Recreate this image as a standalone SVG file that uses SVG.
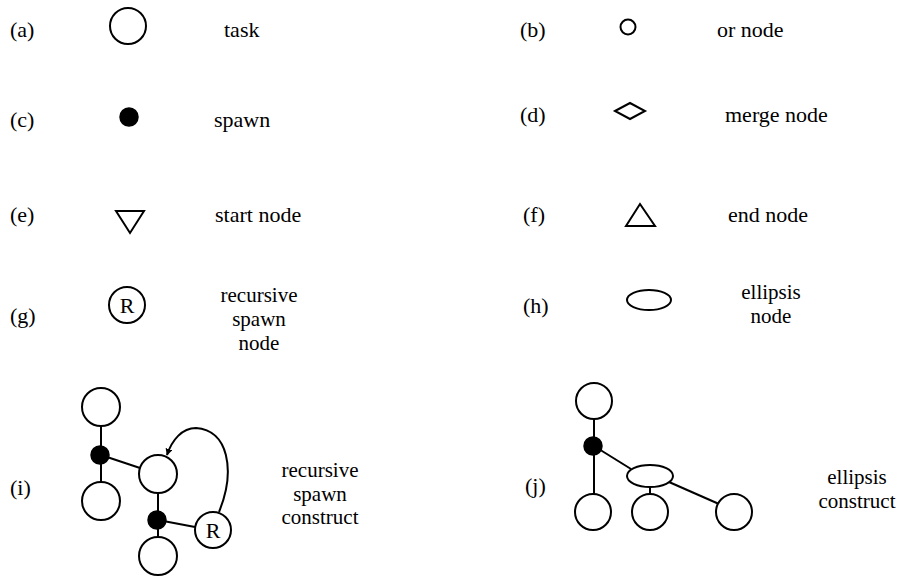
<svg xmlns="http://www.w3.org/2000/svg" width="906" height="577" viewBox="0 0 906 577">
<defs>
<style>
text{font-family:"Liberation Serif","Times New Roman",serif;font-size:22px;fill:#000}
.c{text-anchor:middle}
.m{font-size:21px}
.n{fill:#fff;stroke:#000;stroke-width:2}
.s{fill:#000;stroke:#000;stroke-width:1.5}
.e{fill:none;stroke:#000;stroke-width:2}
</style>
<marker id="ah" viewBox="0 0 10 10" refX="9" refY="5" markerWidth="7" markerHeight="7" orient="auto" markerUnits="userSpaceOnUse">
<path d="M0,0 L10,5 L0,10 z" fill="#000"/>
</marker>
</defs>
<rect width="906" height="577" fill="#fff"/>

<g id="legend-a">
<text x="10" y="37">(a)</text>
<circle class="n" cx="128" cy="26" r="18"/>
<text x="224" y="37">task</text>
</g>
<g id="legend-b">
<text x="520" y="37">(b)</text>
<circle class="n" cx="628" cy="27" r="7.5"/>
<text x="717" y="37">or node</text>
</g>
<g id="legend-c">
<text x="10" y="127">(c)</text>
<circle class="s" cx="129" cy="117" r="9"/>
<text x="214" y="127">spawn</text>
</g>
<g id="legend-d">
<text x="520" y="122">(d)</text>
<polygon class="n" points="615,111 630,103 645,111 630,119"/>
<text x="725" y="122">merge node</text>
</g>
<g id="legend-e">
<text x="10" y="222">(e)</text>
<polygon class="n" points="116,211 144,211 130,233"/>
<text x="215" y="222">start node</text>
</g>
<g id="legend-f">
<text x="523" y="222">(f)</text>
<polygon class="n" points="626,226 655,226 640,204"/>
<text x="728" y="222">end node</text>
</g>
<g id="legend-g">
<text x="10" y="323">(g)</text>
<circle class="n" cx="127" cy="305" r="18"/>
<text class="c" x="127" y="313">R</text>
<text class="c m" x="259" y="302">recursive</text>
<text class="c m" x="259" y="326">spawn</text>
<text class="c m" x="259" y="350">node</text>
</g>
<g id="legend-h">
<text x="523" y="313">(h)</text>
<ellipse class="n" cx="649" cy="300" rx="22" ry="10"/>
<text class="c m" x="771" y="299">ellipsis</text>
<text class="c m" x="771" y="322.5">node</text>
</g>

<g id="connectors">
<line class="e" x1="101" y1="426" x2="101" y2="482"/>
<line class="e" x1="101" y1="455" x2="140" y2="468"/>
<line class="e" x1="158" y1="493" x2="158" y2="538"/>
<line class="e" x1="158" y1="520" x2="195" y2="527"/>
<path class="e" d="M219,512 C236,470 228,430 196,428 C182,428 172,440 167,455" marker-end="url(#ah)"/>
<line class="e" x1="594" y1="419" x2="594" y2="494"/>
<line class="e" x1="594" y1="446" x2="631" y2="469"/>
<line class="e" x1="650" y1="487" x2="650" y2="494"/>
<line class="e" x1="669" y1="482" x2="719" y2="504"/>
</g>

<g id="construct-i">
<text x="10" y="495">(i)</text>
<circle class="n" id="i-top" cx="101" cy="407" r="19"/>
<circle class="s" id="i-spawn1" cx="100" cy="455" r="9"/>
<circle class="n" id="i-left" cx="101" cy="501" r="19"/>
<circle class="n" id="i-mid" cx="158" cy="474" r="19"/>
<circle class="s" id="i-spawn2" cx="157" cy="520" r="9"/>
<circle class="n" id="i-bottom" cx="158" cy="556" r="19"/>
<circle class="n" id="i-r" cx="213" cy="530" r="18"/>
<text class="c" x="213" y="538">R</text>
<text class="c m" x="320" y="477">recursive</text>
<text class="c m" x="320" y="500.5">spawn</text>
<text class="c m" x="320" y="524">construct</text>
</g>

<g id="construct-j">
<text x="525" y="493">(j)</text>
<circle class="n" id="j-top" cx="594" cy="401" r="18"/>
<circle class="s" id="j-spawn" cx="593" cy="446" r="9"/>
<ellipse class="n" id="j-ellipsis" cx="650" cy="476" rx="23" ry="11"/>
<circle class="n" id="j-left" cx="593" cy="512" r="18"/>
<circle class="n" id="j-mid" cx="650" cy="512" r="18"/>
<circle class="n" id="j-right" cx="734" cy="512" r="18"/>
<text class="c m" x="857" y="484">ellipsis</text>
<text class="c m" x="857" y="507.5">construct</text>
</g>
</svg>
